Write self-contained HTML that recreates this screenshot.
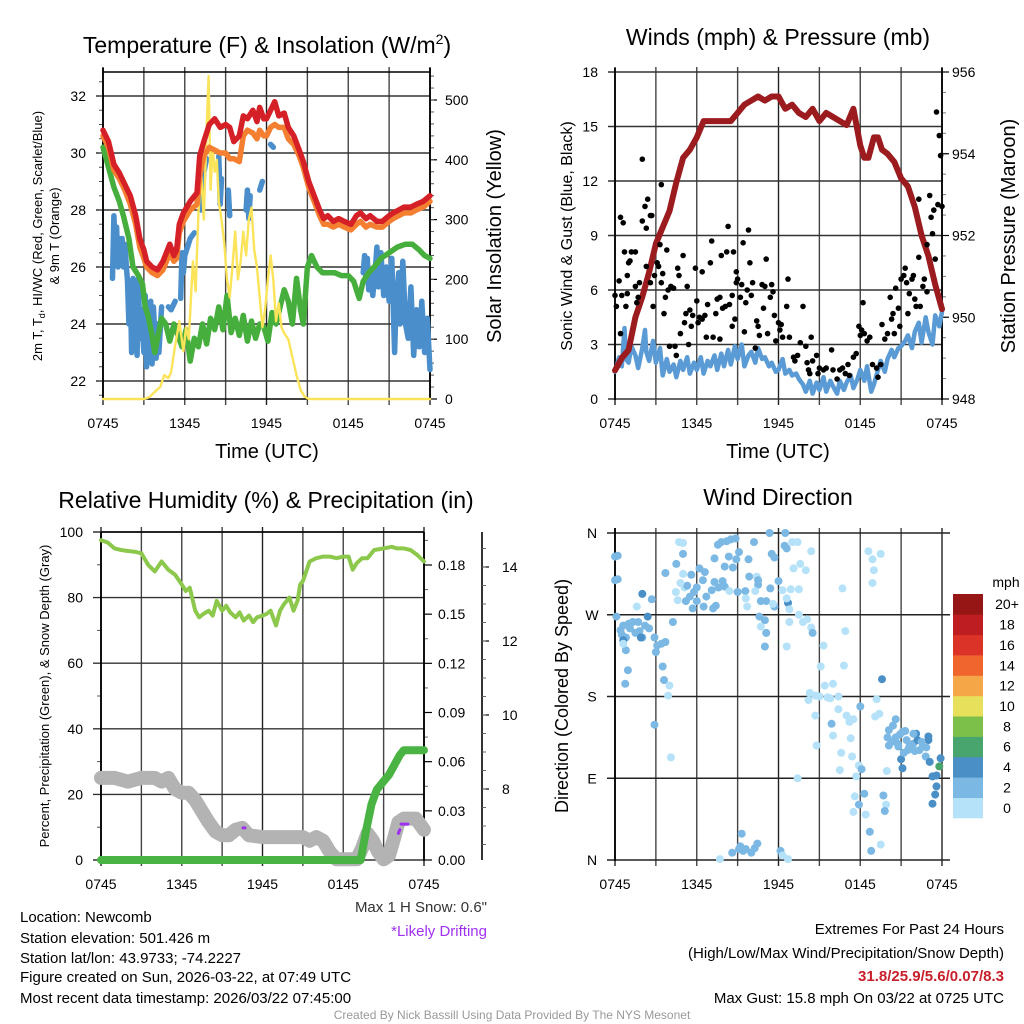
<!DOCTYPE html>
<html><head><meta charset="utf-8"><title>Newcomb Mesonet</title>
<style>
html,body{margin:0;padding:0;background:#fff;}
svg{display:block;font-family:"Liberation Sans",Arial,sans-serif;}
.tk{font-size:14px;fill:#000;}
.ttl{font-size:23px;fill:#000;}
.ax{font-size:20px;fill:#000;}
.info{font-size:15px;fill:#000;}
</style></head>
<body>
<svg id="fig" width="1024" height="1024" viewBox="0 0 1024 1024" xmlns="http://www.w3.org/2000/svg">
<rect x="0" y="0" width="1024" height="1024" fill="#fff"/>
<text class="ttl" x="267" y="53" text-anchor="middle">Temperature (F) &amp; Insolation (W/m<tspan dy="-9" font-size="14">2</tspan><tspan dy="9">)</tspan></text>
<text class="ttl" x="778" y="45" text-anchor="middle">Winds (mph) &amp; Pressure (mb)</text>
<text class="ttl" x="266" y="508" text-anchor="middle">Relative Humidity (%) &amp; Precipitation (in)</text>
<text class="ttl" x="778" y="505" text-anchor="middle">Wind Direction</text>

<text class="ax" x="267" y="458" text-anchor="middle">Time (UTC)</text>
<text class="ax" x="778" y="458" text-anchor="middle">Time (UTC)</text>

<text font-size="13" transform="translate(42,236) rotate(-90)" text-anchor="middle">2m T, T<tspan font-size="9" dy="3">d</tspan><tspan dy="-3">, HI/WC (Red, Green, Scarlet/Blue)</tspan></text>
<text font-size="13" transform="translate(59,236) rotate(-90)" text-anchor="middle">&amp; 9m T (Orange)</text>
<text class="ax" transform="translate(501,236) rotate(-90)" text-anchor="middle">Solar Insolation (Yellow)</text>
<text font-size="16" transform="translate(572,236) rotate(-90)" text-anchor="middle">Sonic Wind &amp; Gust (Blue, Black)</text>
<text class="ax" transform="translate(1015,236) rotate(-90)" text-anchor="middle">Station Pressure (Maroon)</text>
<text font-size="13" transform="translate(49,696) rotate(-90)" text-anchor="middle">Percent, Precipitation (Green), &amp; Snow Depth (Gray)</text>
<text font-size="18" transform="translate(568,696) rotate(-90)" text-anchor="middle">Direction (Colored By Speed)</text>

<text x="487" y="912" font-size="15" fill="#333" text-anchor="end">Max 1 H Snow: 0.6"</text>
<text x="487" y="936" font-size="15" fill="#a030f0" text-anchor="end">*Likely Drifting</text>

<g class="info">
<text x="20" y="922">Location: Newcomb</text>
<text x="20" y="943">Station elevation: 501.426 m</text>
<text x="20" y="963">Station lat/lon: 43.9733; -74.2227</text>
<text x="20" y="982">Figure created on Sun, 2026-03-22, at 07:49 UTC</text>
<text x="20" y="1003">Most recent data timestamp: 2026/03/22 07:45:00</text>
</g>
<g class="info" text-anchor="end">
<text x="1004" y="934">Extremes For Past 24 Hours</text>
<text x="1004" y="958">(High/Low/Max Wind/Precipitation/Snow Depth)</text>
<text x="1004" y="981" fill="#c8202a" font-weight="bold">31.8/25.9/5.6/0.07/8.3</text>
<text x="1004" y="1003">Max Gust: 15.8 mph On 03/22 at 0725 UTC</text>
</g>
<text x="512" y="1019" font-size="12" fill="#999" text-anchor="middle">Created By Nick Bassill Using Data Provided By The NYS Mesonet</text>
</svg>
<script>
// ---------- data ----------
const timeTickLabels = ["0745","1345","1945","0145","0745"];
const tempTickLabels = ["22","24","26","28","30","32"];
const solarTickLabels = ["0","100","200","300","400","500"];
const windTickLabels = ["0","3","6","9","12","15","18"];
const pressTickLabels = ["948","950","952","954","956"];
const rhTickLabels = ["0","20","40","60","80","100"];
const precipTickLabels = ["0.00","0.03","0.06","0.09","0.12","0.15","0.18"];
const snowTickLabels = ["8","10","12","14"];
const dirTickLabels = ["N","E","S","W","N"];
const speedBinLabels = ["0","2","4","6","8","10","12","14","16","18","20+"];

const tempHours = [0,0.4,0.8,1.2,1.6,2,2.4,2.7,3,3.2,3.6,4,4.4,4.9,5.2,5.4,5.6,5.9,6.4,6.9,7.1,7.4,7.8,8.2,8.6,9,9.3,9.6,10,10.3,10.6,11,11.3,11.5,11.8,12,12.3,12.6,12.9,13.3,13.6,14,14.4,14.7,15.1,15.5,15.9,16.2,16.5,16.9,17.3,17.7,18.2,18.6,18.9,19.3,19.6,20.1,20.5,21,21.3,21.7,22.1,22.6,23,23.5,24];
const tempRed = [30.8,30.4,29.6,29.3,28.9,28.5,27.8,27.0,26.6,26.2,26.0,25.9,26.2,26.8,26.4,26.6,27.5,27.9,28.3,28.6,29.9,30.4,31.0,31.2,30.9,31.0,30.9,30.4,30.6,31.3,31.2,31.5,31.1,31.6,31.2,31.2,31.5,31.8,31.3,31.4,30.9,30.6,30.1,29.7,29.0,28.5,28.0,27.7,27.8,27.6,27.7,27.6,27.5,27.8,27.9,27.7,27.8,27.6,27.6,27.8,27.9,28.0,28.1,28.1,28.2,28.3,28.5];
const tempOrange = [30.6,30.2,29.4,29.1,28.7,28.2,27.5,26.7,26.3,26.0,25.8,25.7,25.9,26.5,26.2,26.3,27.2,27.6,28.0,28.2,29.2,29.9,30.2,30.1,30.0,30.0,29.8,29.8,29.7,30.6,30.8,30.7,30.5,30.8,30.6,30.6,30.9,31.0,30.9,30.9,30.5,30.3,29.9,29.5,28.8,28.3,27.8,27.5,27.5,27.4,27.5,27.4,27.3,27.5,27.6,27.4,27.5,27.4,27.4,27.6,27.7,27.8,27.9,27.9,28.0,28.1,28.3];
const dewHours = [0,0.4,0.8,1.2,1.5,1.9,2.2,2.6,2.9,3.1,3.3,3.6,3.8,4.0,4.3,4.6,4.9,5.2,5.5,5.8,6.1,6.4,6.7,7.0,7.3,7.6,7.9,8.2,8.5,8.8,9.1,9.4,9.7,10.0,10.3,10.6,10.9,11.2,11.5,11.8,12.1,12.4,12.7,13.0,13.3,13.6,13.9,14.2,14.5,14.7,15.0,15.3,15.7,16.1,16.5,17.0,17.5,18.0,18.4,18.8,19.1,19.5,19.9,20.4,21.0,21.6,22.2,22.7,23.2,23.6,24];
const dewGreen = [30.2,29.5,28.8,28.3,27.8,27.0,26.0,25.7,25.4,24.6,24.3,23.6,23.0,23.5,24.2,24.0,23.4,24.0,23.6,23.2,23.8,22.7,23.5,23.2,24.0,23.3,24.2,23.8,24.6,23.8,25.0,23.7,24.2,23.6,24.3,23.4,24.1,23.5,24.0,23.9,23.4,24.4,24.0,24.6,25.2,24.8,24.0,25.6,24.5,24.0,26.0,26.4,26.0,25.8,25.8,25.8,25.7,25.7,25.5,24.9,25.5,25.8,26.0,26.3,26.5,26.7,26.8,26.8,26.6,26.4,26.3];
const chillHours = [0.7,0.8,0.9,1.0,1.1,1.2,1.3,1.4,1.5,1.6,1.8,1.9,2.0,2.1,2.2,2.3,2.4,2.5,2.6,2.7,2.8,3.0,3.1,3.2,3.3,3.4,3.5,3.6,3.7,3.9,4.0,4.1,4.3,null,4.8,5.0,5.3,null,5.7,5.8,5.9,6.0,6.2,6.4,6.7,null,7.2,7.4,7.6,null,8.5,8.6,8.7,null,9.2,9.3,null,10.5,10.6,10.7,10.8,null,11.5,11.7,null,12.3,12.5,null,19.1,19.2,19.3,19.4,19.5,19.6,19.8,20.0,20.1,20.2,20.4,20.6,20.8,21.0,21.2,21.4,21.5,21.7,21.8,22.0,22.2,22.4,22.6,22.8,23.0,23.2,23.4,23.6,23.8,24.0];
const chillBlue = [25.6,27.8,26.5,27.4,26.0,27.0,26.2,27.0,26.0,26.8,25.5,24.0,25.5,23.0,25.6,23.5,25.3,22.9,25.6,23.5,24.5,23.0,25.0,22.5,24.5,22.7,24.8,22.6,24.6,22.8,24.0,23.0,24.6,null,24.6,24.5,24.8,null,24.9,26.5,25.8,26.4,26.7,27.0,27.2,null,28.0,29.3,29.8,null,29.9,28.2,29.1,null,28.7,27.8,null,28.0,28.7,27.7,28.5,null,28.7,29.0,null,30.3,30.2,null,25.8,26.4,25.5,26.3,25.2,25.8,25.0,26.0,26.7,25.3,26.5,25.0,26.0,24.8,26.3,23.0,24.5,25.8,24.0,26.2,24.0,23.5,25.3,22.9,24.5,23.2,24.8,23.0,24.2,22.4];
const solarHours = [0,3,3.4,3.8,4.2,4.5,4.8,5.0,5.3,5.6,5.9,6.1,6.3,6.6,6.8,7.0,7.2,7.4,7.6,7.75,7.9,8.05,8.2,8.35,8.5,8.7,8.9,9.1,9.3,9.5,9.7,9.9,10.1,10.3,10.5,10.7,10.9,11.1,11.3,11.5,11.7,11.9,12.1,12.3,12.5,12.7,12.9,13.1,13.3,13.6,13.9,14.2,14.5,14.8,15.1,24];
const solarVals = [0,0,3,12,20,40,35,45,90,130,80,120,100,230,180,310,380,300,450,540,350,420,380,400,330,300,260,200,170,220,280,200,230,280,240,300,320,250,220,170,120,150,200,240,200,130,160,120,110,100,70,40,15,4,0,0];

const windHours = [0,0.3,0.5,0.7,0.8,1,1.2,1.5,1.7,2,2.2,2.3,2.5,2.8,3,3.3,3.5,3.8,4,4.3,4.5,4.8,5,5.3,5.5,5.8,6,6.3,6.5,6.8,7,7.3,7.5,7.8,8,8.3,8.5,8.8,9,9.3,9.5,9.8,10,10.3,10.5,10.8,11,11.3,11.5,11.8,12,12.3,12.5,12.8,13,13.3,13.5,13.8,14,14.3,14.5,14.8,15,15.3,15.5,15.8,16,16.3,16.5,16.8,17,17.3,17.5,17.8,18,18.3,18.5,18.8,19,19.3,19.5,19.8,20,20.3,20.5,20.8,21,21.3,21.5,21.8,22,22.3,22.5,22.8,23,23.3,23.5,23.8,24];
const windSpeed = [1.5,2.3,1.8,3.9,2.2,2.0,2.9,2.4,1.7,2.8,3.8,2.6,2.1,3.2,2.0,2.8,1.3,2.2,1.5,1.9,1.2,2.1,1.6,2.3,1.4,2.0,1.6,2.3,1.4,2.1,1.8,2.4,1.6,2.5,1.8,2.7,1.9,2.9,2.2,3.0,1.8,2.4,2.6,2.0,2.8,2.2,2.3,1.8,2.0,1.5,1.6,2.2,1.4,1.6,1.3,1.4,1.1,0.8,0.4,1.0,0.3,0.9,0.5,1.2,0.4,1.0,0.7,0.3,1.0,0.5,0.9,1.3,0.6,1.1,1.6,1.0,1.8,0.4,0.8,1.6,2.1,1.5,2.2,2.7,2.3,2.8,2.9,3.2,3.5,2.8,3.7,4.2,3.1,4.5,3.7,3.0,4.6,4.0,4.8];
const pressHours = [0,0.5,1,1.5,2,2.5,3,3.5,4,4.5,5,5.5,6,6.5,7,7.5,8,8.5,9,9.5,10,10.5,11,11.5,12,12.5,13,13.5,14,14.5,15,15.5,16,16.5,17,17.5,18,18.3,18.6,19,19.3,19.6,20,20.5,21,21.5,22,22.5,23,23.5,24];
const pressVals = [948.7,949.0,949.2,950.0,950.5,951.1,951.8,952.2,952.6,953.3,953.9,954.1,954.4,954.8,954.8,954.8,954.8,954.8,955.0,955.2,955.3,955.4,955.3,955.4,955.4,955.1,955.2,955.0,954.9,955.1,954.8,955.0,954.9,954.8,954.7,955.1,954.2,953.9,953.9,954.4,954.4,954.1,954.0,953.8,953.4,953.2,952.7,952.0,951.5,950.8,950.2];
const gustHours = [0,0.1,0.3,0.4,0.6,0.5,0.4,0.7,0.9,0.9,1,1.1,1.2,1.5,0.8,1.5,1.6,1.7,1.8,2,2,2.2,2.3,2.4,2.6,2.7,2.3,2.6,2.8,2.9,3.1,3.2,3.3,3.4,3.4,3.5,3.6,3.7,3.8,3.9,4.1,4,4.3,4.4,4.5,4.6,4.7,4.8,5,5.1,5.2,5.3,5.4,5.5,5.6,5.7,5.9,6,6.1,6.2,6.4,6.4,6.6,6.7,6.8,7,7.1,7.2,7.4,7.5,7.7,7.7,7.8,7.9,8.1,8.2,8.3,8.4,8.6,8.6,8.7,8.8,8.9,8.9,9,9.2,9.3,9.4,9.5,9.6,9.7,9.8,9.9,10,10.1,10.3,10.4,10.5,10.6,10.8,10.9,11,11.1,11.2,11.4,11.5,11.6,11.7,11.8,12,12.1,12.2,12.3,12.6,12.7,12.8,13.1,13.2,13.4,13.6,13.8,14,14.1,14.2,14.3,14.4,14.5,14.8,14.9,15,15.3,15.5,15.9,16,16.3,16.5,16.7,16.9,17.1,17.2,17.5,17.7,17.9,18,18.1,18.2,18.3,18.5,18.7,18.9,19.2,19.3,19.5,19.6,19.8,20,20.2,20.3,20.4,20.5,20.6,20.8,20.9,21,21.2,21.3,21.4,21.5,21.6,21.8,21.9,22,22.1,22.3,22.3,22.4,22.6,22.7,22.9,22.9,23.1,23.2,23.3,23.4,23.5,23.6,23.7,23.8,23.9,24];
const gustVals = [5.7,5.1,6.5,10,9.7,5.7,3.6,8.1,5.8,6.8,7.5,7.6,8.1,8.1,5.1,6.2,5.3,5.6,6.4,13.2,9.8,10.6,9.4,11,10.1,10.1,7.3,6.4,5.1,6.8,7.5,7.3,8.5,11.8,6.4,6.9,4.7,5.6,8.2,6,6.2,2.9,6.1,2.9,2.4,7.2,6.8,3.6,7.9,4.2,4.7,6.2,3,4.9,4,4.6,7.2,5.4,4.2,4.5,7,4.4,4.6,3.4,5.2,7.5,8.7,3.4,4.7,5.5,3.3,5.6,7.9,5,5.1,8.1,9.5,5.2,5.7,4,8.1,4.4,6.4,7,6.6,5.6,6.3,8.6,3.7,5.3,6,9.3,7.5,5.7,6.4,2.8,4.3,4,3.5,6.3,5,6.2,7.7,3.6,5.6,6.3,5.9,4.6,3.2,4.2,3.8,4.1,3.4,5.1,6.6,3.4,2.3,2.1,2.4,3.1,5.1,2.9,2,1.6,1.4,3.4,2.1,2.4,1.4,1.7,1.6,1.7,2.7,1.6,1.1,1.6,1.7,1.4,1.9,1.3,2.3,2.5,4,3.5,3.8,5.3,3.6,3.2,3.4,1.9,1.7,1.2,1.9,4.1,3.3,3.6,5.6,4.4,4.7,3.6,6.1,5,4,6.6,6.8,7.2,6.4,4.7,5.8,6.6,6.8,5.5,5.1,11,7.8,5.1,6.2,6.6,5.9,8.5,11.2,10,9.1,10.4,7.7,15.8,10.7,14.5,13.4,10.6];

const rhHours = [0,0.5,1,1.5,2,2.5,3,3.5,4,4.5,5,5.5,6,6.3,6.6,7,7.3,7.6,8,8.3,8.6,9,9.3,9.6,10,10.3,10.6,11,11.3,11.6,12,12.3,12.6,13,13.3,13.6,14,14.3,14.6,14.8,15,15.5,16,16.5,17,17.5,18,18.4,18.7,19,19.4,19.8,20.3,21,21.6,22,22.5,23,23.5,24];
const rhVals = [97.5,96.8,95,94.5,94.2,94,93.5,90,88,91,88.5,87,84,82,83,76,74,75,76,74.5,79,76,77.5,75.5,74,75.5,73,74.5,72.5,74,74.5,75,76,71.5,76,78,80,76,79,84,85,91,92,92.5,92.5,92,92.5,92.5,88.5,90.5,92,92,94.5,95,95.5,95,95,94.5,93,91];
const precipHours = [0,19.3,19.7,20.1,20.5,21,21.4,21.8,22.2,22.5,24];
const precipVals = [0,0,0.018,0.034,0.043,0.048,0.052,0.058,0.064,0.067,0.067];
const snowHours = [0,1,2,3,4,4.5,5,5.5,6,6.5,7,7.5,8,8.5,9,9.5,10,10.5,11,12,13,14,14.5,15,15.5,16,16.5,17,17.5,18,18.5,19,19.4,19.8,20.2,20.6,21,21.4,21.8,22.1,22.5,23,23.4,24];
const snowVals = [8.3,8.3,8.2,8.3,8.3,8.2,8.3,8.0,7.9,7.9,7.7,7.4,7.1,6.85,6.75,6.75,6.9,6.95,6.75,6.7,6.7,6.7,6.7,6.7,6.6,6.7,6.6,6.3,6.1,6.1,6.1,6.1,6.4,6.8,6.6,6.3,6.1,6.2,6.7,7.1,7.2,7.2,7.2,6.9];
const driftHours = [10.55,10.7,null,22.1,22.2,null,22.3,22.8];
const driftVals = [6.95,6.95,null,6.8,6.9,null,7.05,7.05];

const dirObs = [
[0,334,3],[0.2,335,3],[0,308,3],[0.2,309,3],[0.1,268,3],[0.4,253,3],[0.6,258,3],[0.5,248,3],[0.8,245,3],[1.0,260,3],[1.1,255,3],[1.3,262,3],[1.5,250,3],[1.7,262,3],[1.8,252,3],[2.0,245,3],[2.2,258,3],[2.4,268,4],[2.5,255,3],[0.6,242,5],[1.9,245,5],
[0.8,231,3],[0.95,209,3],[0.75,194,3],[2.9,149,3],[3.5,213,3],[3.6,198,3],[4.0,192,1],[3.9,181,1],[4.1,113,1],[2.0,293,5],[2.7,287,3],[3.7,316,3],[4.25,262,3],[1.6,279,1],[2.9,245,3],[3.1,236,3],[3.4,238,3],[3.7,240,3],[3.0,229,3],[0.6,238,1],
[4.7,350,1],[5.0,349,1],[4.99,337,3],[4.5,326,3],[5.0,315,1],[4.47,295,1],[4.6,286,1],[5.2,285,3],[5.7,277,3],[5.6,314,3],[6.2,321,3],[6.45,308,3],[5.8,295,3],[6.6,317,3],[6.0,285,3],[6.5,279,3],[7.2,277,3],[7.4,280,3],[7.1,297,3],[7.3,306,3],[7.9,307,3],[8.05,301,3],[7.3,332,3],[7.55,347,3],[7.8,350,3],[8.2,351,3],[8.5,353,3],[8.85,354,3],[8.35,334,3],[8.05,323,3],[8.65,322,3],[9.1,339,3],[8.9,331,3],[9.8,331,3],[9.0,295,3],[9.56,296,3],[9.6,288,1],[9.7,279,1],[9.85,312,3],[10.2,350,3],[10.4,312,1],[10.5,303,3],[10.7,285,3],[11.1,285,3],[11.4,299,3],[11.5,337,3],[11.7,333,3],[11.35,360,3],[12.5,360,3],[12.45,346,3],[12.6,343,3],[12.0,307,3],[12.7,283,4],[11.7,279,3],[10.6,268,3],[11.0,264,3],[10.7,257,1],[11.1,250,3],[11.0,235,3],[10.5,308,3],[11.6,282,1],
[5.1,300,1],[5.3,302,3],[4.8,305,1],[5.5,290,3],[6.0,300,3],[6.7,290,3],[7.6,300,3],[8.4,296,1],[10.3,296,1],[12.3,297,1],[12.9,298,1],[12.6,288,1],[12.8,276,1],[13.4,90,1],[13.0,350,1],[13.4,350,1],[14.4,340,1],[13.6,326,1],[13.1,321,1],[14.0,319,1],[13.5,270,1],[13.8,262,1],[14.1,265,1],[12.8,262,1],[14.4,256,1],[12.6,235,1],[13.5,298,1],[14.5,250,3],
[15.3,236,1],[15.1,213,1],[15.4,192,1],[14.3,184,1],[14.7,181,1],[14.2,176,1],[14.7,159,1],[15.6,179,1],[16.0,194,1],[16.4,180,1],[15.9,150,3],[16.0,137,1],[14.8,126,1],[16.7,299,1],[16.9,252,1],[16.8,214,1],[16.4,166,1],[17.0,159,1],[17.2,152,1],[17.5,155,1],[17.3,134,1],[16.6,118,1],[16.5,99,1],[17.4,114,1],[18.0,169,3],[17.9,104,1],[18.1,100,3],[17.7,92,1],[17.6,70,1],[17.9,61,3],[17.5,53,1],[18.3,73,3],[18.4,50,1],[18.7,31,3],[18.8,10,3],[19.5,17,1],[19.7,71,3],[19.9,61,1],[19.8,54,3],[19.95,98,1],[18.6,340,1],[18.9,331,1],[19.0,319,1],[18.9,305,1],[19.5,337,1],[19.2,177,1],[19.1,158,1],[19.4,161,1],[19.6,199,4],[15.0,180,1],[15.8,178,1],
[20.6,155,3],[20.4,148,3],[20.1,143,3],[20.0,135,3],[20.6,135,3],[20.1,126,3],[20.75,128,3],[21.1,141,3],[21.3,142,3],[21.4,132,3],[21.6,125,3],[21.9,128,3],[22.1,139,4],[22.2,132,4],[22.35,121,3],[22.6,125,3],[22.8,114,3],[23.0,136,4],[23.0,132,4],[22.85,124,3],[23.1,108,4],[21.0,111,4],[21.1,101,4],[21.9,139,3],[21.5,121,3],[23.9,112,4],[23.8,103,7],[23.6,93,4],[23.3,92,4],[23.6,81,4],[23.5,72,4],[23.3,62,4],[20.8,125,3],[21.2,118,3],[22.0,120,3],[22.5,130,3],[20.3,130,3],[20.9,138,3],
[7.7,1,1],[8.6,8,3],[9.1,12,3],[9.3,29,3],[9.4,10,3],[10.0,8,3],[10.25,13,3],[10.45,18,3],[12.15,10,3],[12.3,5,1],[12.7,1,1],[9.2,15,3],[9.6,12,3]
];

// ---------- drawing helpers ----------
const NS = "http://www.w3.org/2000/svg";
const svg = document.getElementById("fig");
function mk(tag, attrs, parent) {
  const el = document.createElementNS(NS, tag);
  for (const k in attrs) el.setAttribute(k, attrs[k]);
  (parent || svg).appendChild(el);
  return el;
}
function pathFrom(xs, ys, fx, fy) {
  let d = "", pen = false;
  for (let i = 0; i < xs.length; i++) {
    if (xs[i] === null || ys[i] === null) { pen = false; continue; }
    d += (pen ? "L" : "M") + fx(xs[i]).toFixed(1) + " " + fy(ys[i]).toFixed(1);
    pen = true;
  }
  return d;
}
function lineSeries(g, name, xs, ys, fx, fy, color, w) {
  const el = mk("path", {d: pathFrom(xs, ys, fx, fy), fill: "none", stroke: color, "stroke-width": w, "stroke-linejoin": "round", "stroke-linecap": "round"}, g);
  
  
  return el;
}
function txt(g, x, y, s, anchor, name) {
  const t = mk("text", {x: x, y: y, "text-anchor": anchor, "dominant-baseline": "central", class: "tk"}, g);
  t.textContent = s;
  
  
  return t;
}
function seg(g, x1, y1, x2, y2, color, w, name) {
  const l = mk("line", {x1: x1, y1: y1, x2: x2, y2: y2, stroke: color, "stroke-width": w}, g);
  
  
  return l;
}
function timeAxis(g, fx, yb, ytop, prefix) {
  for (let h = 0; h <= 24; h += 3) {
    seg(g, fx(h), ytop - 5, fx(h), yb + 6, h % 12 === 0 ? "#222" : "#444", 1.4, prefix + "-time-gridline");
  }
  for (let i = 0; i < timeTickLabels.length; i++) {
    txt(g, fx(i * 6), yb + 24, timeTickLabels[i], "middle", prefix + "-time-tick-label");
  }
}

// ---------- Panel 1: Temperature ----------
const p1 = mk("g", {});


const x1 = h => 103 + h * 327 / 24;
const yT = t => 96 + (32 - t) * 28.5;
const yS = s => 399 - s * 0.598;
timeAxis(p1, x1, 399, 72, "temperature");
for (let i = 0; i < tempTickLabels.length; i++) {
  const v = +tempTickLabels[i];
  seg(p1, 96, yT(v), 430, yT(v), "#333", 1.4, "temperature-gridline");
  txt(p1, 86, yT(v), tempTickLabels[i], "end", "temperature-tick-label");
}
for (let v = 21.5; v <= 32.9; v += 0.5) seg(p1, 99, yT(v), 103, yT(v), "#555", 1, "temperature-minor-tick");
for (let i = 0; i < solarTickLabels.length; i++) {
  const v = +solarTickLabels[i];
  seg(p1, 430, yS(v), 437, yS(v), "#000", 1.2, "solar-tick");
  txt(p1, 445, yS(v), solarTickLabels[i], "start", "solar-tick-label");
}
for (let v = 20; v <= 540; v += 20) seg(p1, 430, yS(v), 434, yS(v), "#555", 1, "solar-minor-tick");
seg(p1, 103, 72, 430, 72, "#000", 1.4, "temperature-top-border");
seg(p1, 103, 399, 430, 399, "#000", 1.4, "temperature-bottom-border");
seg(p1, 103, 68, 103, 400, "#000", 1.8, "temperature-left-axis");
seg(p1, 430, 68, 430, 400, "#000", 1.8, "solar-right-axis");
lineSeries(p1, "wind-chill-line-blue", chillHours, chillBlue, x1, yT, "#4a8fcc", 5.5);
lineSeries(p1, "dewpoint-line-green", dewHours, dewGreen, x1, yT, "#46ae3c", 5.5);
lineSeries(p1, "solar-line-yellow", solarHours, solarVals, x1, yS, "#fbe35a", 2.4);
lineSeries(p1, "temp-9m-line-orange", tempHours, tempOrange, x1, yT, "#f47f30", 5.5);
lineSeries(p1, "temp-2m-line-red", tempHours, tempRed, x1, yT, "#d42026", 5.5);

// ---------- Panel 2: Winds & Pressure ----------
const p2 = mk("g", {});


const x2 = h => 615 + h * 327 / 24;
const yW = w => 399 - w * 327 / 18;
const yP = p => 399 - (p - 948) * 327 / 8;
timeAxis(p2, x2, 399, 72, "wind");
for (let i = 0; i < windTickLabels.length; i++) {
  const v = +windTickLabels[i];
  seg(p2, 608, yW(v), 942, yW(v), "#333", 1.4, "wind-gridline");
  txt(p2, 598, yW(v), windTickLabels[i], "end", "wind-tick-label");
}
for (let v = 948.5; v < 956; v += 0.5) seg(p2, 942, yP(v), 946, yP(v), "#777", 1, "pressure-minor-tick");
for (let i = 0; i < pressTickLabels.length; i++) {
  const v = +pressTickLabels[i];
  seg(p2, 942, yP(v), 949, yP(v), "#000", 1.2, "pressure-tick");
  txt(p2, 952, yP(v), pressTickLabels[i], "start", "pressure-tick-label");
}
seg(p2, 615, 68, 615, 400, "#000", 1.8, "wind-left-axis");
seg(p2, 942, 68, 942, 400, "#000", 1.8, "pressure-right-axis");
lineSeries(p2, "wind-speed-line-blue", windHours, windSpeed, x2, yW, "#5a9bd5", 4.5);
lineSeries(p2, "pressure-line-maroon", pressHours, pressVals, x2, yP, "#9b1b1e", 6);
for (let i = 0; i < gustHours.length; i++) {
  const c = mk("circle", {cx: x2(gustHours[i]).toFixed(1), cy: yW(gustVals[i]).toFixed(1), r: 2.8, fill: "#000"}, p2);
  
  
}

// ---------- Panel 3: RH & Precip ----------
const p3 = mk("g", {});


const x3 = h => 101 + h * 323 / 24;
const yR = r => 860 - r * 3.28;
const yPr = p => 860 - p * 295 / 0.18;
const ySn = d => 789 - (d - 8) * 37;
timeAxis(p3, x3, 860, 532, "humidity");
for (let i = 0; i < rhTickLabels.length; i++) {
  const v = +rhTickLabels[i];
  seg(p3, 93, yR(v), 424, yR(v), "#333", 1.4, "humidity-gridline");
  txt(p3, 83, yR(v), rhTickLabels[i], "end", "humidity-tick-label");
}
for (let v = 10; v < 100; v += 20) seg(p3, 97, yR(v), 101, yR(v), "#555", 1, "humidity-minor-tick");
for (let i = 0; i < precipTickLabels.length; i++) {
  const v = +precipTickLabels[i];
  seg(p3, 424, yPr(v), 432, yPr(v), "#000", 1.2, "precip-tick");
  txt(p3, 438, yPr(v), precipTickLabels[i], "start", "precip-tick-label");
}
for (let v = 0.015; v < 0.2; v += 0.03) seg(p3, 424, yPr(v), 428, yPr(v), "#666", 1, "precip-minor-tick");
seg(p3, 482, 532, 482, 860, "#000", 1.6, "snow-right-axis");
for (let i = 0; i < snowTickLabels.length; i++) {
  const v = +snowTickLabels[i];
  seg(p3, 482, ySn(v), 489, ySn(v), "#000", 1.2, "snow-tick");
  txt(p3, 502, ySn(v), snowTickLabels[i], "start", "snow-tick-label");
}
for (let v = 6.5; v < 15; v += 0.5) seg(p3, 482, ySn(v), 486, ySn(v), "#666", 1, "snow-minor-tick");
seg(p3, 101, 532, 101, 861, "#000", 1.8, "humidity-left-axis");
seg(p3, 424, 532, 424, 861, "#000", 1.8, "precip-right-axis");
seg(p3, 101, 532, 424, 532, "#000", 1.4, "humidity-top-border");
lineSeries(p3, "snow-depth-line-gray", snowHours, snowVals, x3, ySn, "#b3b3b3", 14);
lineSeries(p3, "precip-line-green", precipHours, precipVals, x3, yPr, "#49b443", 8);
lineSeries(p3, "drifting-marks-purple", driftHours, driftVals, x3, ySn, "#a030f0", 3);
lineSeries(p3, "humidity-line-green", rhHours, rhVals, x3, yR, "#8cc84b", 4);

// ---------- Panel 4: Wind direction ----------
const p4 = mk("g", {});


const x4 = h => 615 + h * 327 / 24;
const yD = d => 860 - d * 327 / 360;
timeAxis(p4, x4, 860, 533, "direction");
for (let i = 0; i < dirTickLabels.length; i++) {
  seg(p4, 607, yD(i * 90), 950, yD(i * 90), "#222", 1.4, "direction-gridline");
  txt(p4, 592, yD(i * 90), dirTickLabels[i], "middle", "direction-tick-label");
}
seg(p4, 615, 528, 615, 861, "#000", 1.8, "direction-left-axis");
const binColors = ["#b5e2f8","#7bb8e3","#4a8fc6","#48a56e","#7cc04a","#e6e05a","#f5a747","#f0642d","#dc3328","#be1e22","#961616"];
for (let i = 0; i < dirObs.length; i++) {
  const o = dirObs[i];
  const bin = Math.min(10, Math.floor(o[2] / 2));
  const c = mk("circle", {cx: x4(o[0]).toFixed(1), cy: yD(o[1]).toFixed(1), r: 4, fill: binColors[bin]}, p4);
  
  
}
// colorbar
const cb = mk("g", {});


const binH = (818 - 594) / 11;
for (let i = 0; i < speedBinLabels.length; i++) {
  const y = 818 - (i + 1) * binH;
  const r = mk("rect", {x: 953, y: y.toFixed(1), width: 30, height: (binH + 0.3).toFixed(1), fill: binColors[i]}, cb);
  
  
  txt(cb, 1007, y + binH / 2, speedBinLabels[i], "middle", "colorbar-label");
}
txt(cb, 1006, 582, "mph", "middle", "colorbar-title");
</script>
</body></html>
